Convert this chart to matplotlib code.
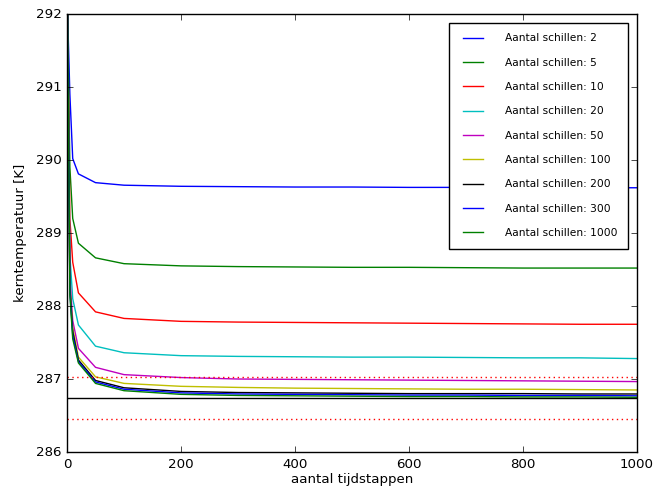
import numpy as np
import matplotlib
matplotlib.use('Agg')
import matplotlib.pyplot as plt

plt.style.use('classic')

tijdstappen = [1, 5, 10, 20, 50, 100, 200, 300, 400, 500, 600, 700, 800, 900, 1000]
schillen = [2, 5, 10, 20, 50, 100, 200, 300, 1000]

t_2 = [292.0, 290.9, 290.02, 289.81, 289.69, 289.655, 289.64, 289.635, 289.63, 289.63, 289.625, 289.625, 289.62, 289.62, 289.62]
t_5 = [292.0, 289.9, 289.2, 288.86, 288.66, 288.58, 288.55, 288.54, 288.535, 288.53, 288.53, 288.525, 288.52, 288.52, 288.52]
t_10 = [292.0, 289.2, 288.6, 288.18, 287.92, 287.83, 287.79, 287.78, 287.775, 287.77, 287.765, 287.76, 287.755, 287.75, 287.75]
t_20 = [292.0, 288.7, 288.1, 287.74, 287.45, 287.36, 287.32, 287.31, 287.305, 287.3, 287.3, 287.295, 287.29, 287.29, 287.28]
t_50 = [292.0, 288.4, 287.8, 287.42, 287.16, 287.06, 287.02, 287.0, 286.995, 286.99, 286.985, 286.98, 286.975, 286.97, 286.965]
t_100 = [292.0, 288.3, 287.7, 287.3, 287.03, 286.94, 286.9, 286.885, 286.875, 286.87, 286.865, 286.86, 286.86, 286.855, 286.85]
t_200 = [292.0, 288.25, 287.65, 287.26, 286.98, 286.88, 286.83, 286.815, 286.81, 286.805, 286.8, 286.8, 286.8, 286.795, 286.795]
t_300 = [292.0, 288.2, 287.6, 287.24, 286.96, 286.86, 286.81, 286.795, 286.79, 286.785, 286.78, 286.78, 286.775, 286.775, 286.77]
t_1000 = [292.0, 288.15, 287.55, 287.22, 286.94, 286.84, 286.79, 286.775, 286.77, 286.765, 286.76, 286.76, 286.755, 286.755, 286.75]

evenwicht = 286.74
marge = 0.29

reeksen = [t_2, t_5, t_10, t_20, t_50, t_100, t_200, t_300, t_1000]
kleuren = ['b', 'g', 'r', 'c', 'm', 'y', 'k', 'b', 'g']

fig = plt.figure(figsize=(6.59, 4.97), dpi=100, facecolor='white')
ax = fig.add_axes([0.1017, 0.0905, 0.865, 0.8813])

for n, t, c in zip(schillen, reeksen, kleuren):
    ax.plot(tijdstappen, t, color=c, linewidth=1.0, label='Aantal schillen: %d' % n)

ax.axhline(evenwicht, color='k', linewidth=1.0)
ax.axhline(evenwicht + marge, color='r', linestyle=(0, (1, 2.5)), linewidth=1.0)
ax.axhline(evenwicht - marge, color='r', linestyle=(0, (1, 2.5)), linewidth=1.0)

ax.set_xlim(0, 1000)
ax.set_ylim(286, 292)
ax.set_xticks(np.arange(0, 1001, 200))
ax.set_yticks(np.arange(286, 293, 1))
ax.tick_params(labelsize=9.6)
ax.set_xlabel('aantal tijdstappen', fontsize=9.6, labelpad=2)
ax.set_ylabel('kerntemperatuur [K]', fontsize=9.6, labelpad=6)

leg = ax.legend(loc='upper right', fontsize=7.7, borderpad=1.0, labelspacing=1.34,
                handlelength=2.5, handletextpad=1.8, borderaxespad=0.8)
leg.get_frame().set_linewidth(1.0)

fig.savefig('out.png', dpi=100, facecolor='white')
